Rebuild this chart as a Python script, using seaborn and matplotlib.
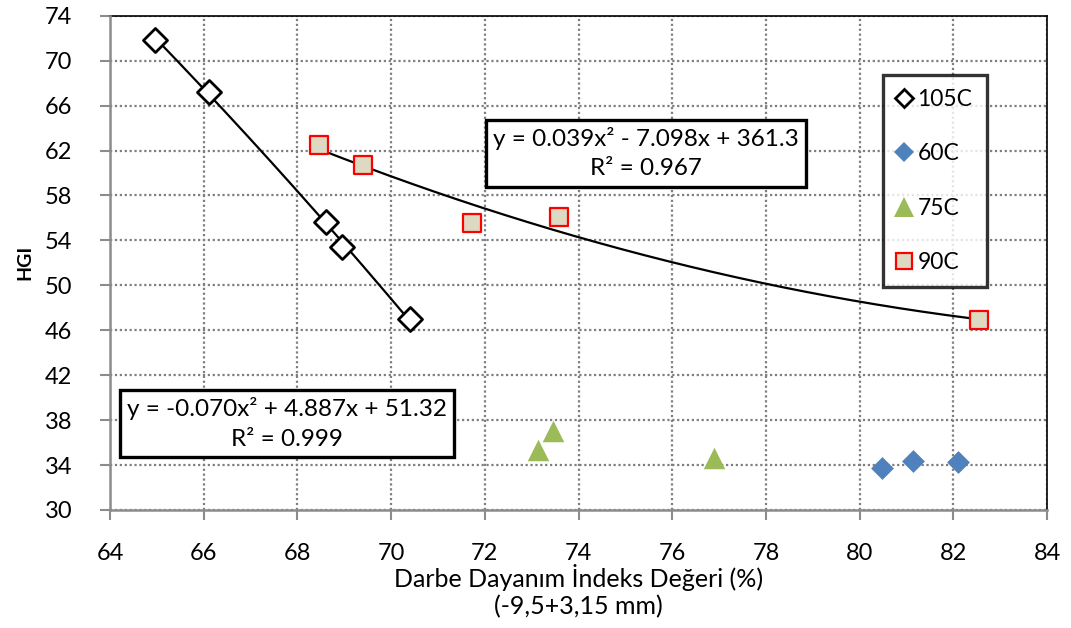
import numpy as np
import pandas as pd
import matplotlib
matplotlib.use("Agg")
import matplotlib.pyplot as plt
import seaborn as sns
from matplotlib.lines import Line2D

sns.set_theme(style="white")
plt.rcParams['font.family'] = ['Lato', 'DejaVu Sans']
plt.rcParams['text.color'] = 'black'
plt.rcParams['axes.labelcolor'] = 'black'

# ---- data ----
x_105 = [64.97, 66.12, 68.62, 68.96, 70.40]
y_105 = [71.84, 67.23, 55.66, 53.38, 46.97]
x_60 = [80.47, 81.13, 82.09]
y_60 = [33.75, 34.35, 34.29]
x_75 = [73.13, 73.46, 76.89]
y_75 = [35.33, 37.02, 34.59]
x_90 = [68.47, 69.41, 71.72, 73.58, 82.54]
y_90 = [62.49, 60.73, 55.51, 56.07, 46.90]

series_labels = ["105C", "60C", "75C", "90C"]
eq_90 = "y = 0.039x² - 7.098x + 361.3\nR² = 0.967"
eq_105 = "y = -0.070x² + 4.887x + 51.32\nR² = 0.999"
x_ticks = list(range(64, 85, 2))
y_ticks = list(range(30, 75, 4))
xlabel = "Darbe Dayanım İndeks Değeri (%)\n(-9,5+3,15 mm)"
ylabel = "HGI"

df = pd.concat([
    pd.DataFrame({"x": x_105, "y": y_105, "grp": "105C"}),
    pd.DataFrame({"x": x_60, "y": y_60, "grp": "60C"}),
    pd.DataFrame({"x": x_75, "y": y_75, "grp": "75C"}),
    pd.DataFrame({"x": x_90, "y": y_90, "grp": "90C"}),
], ignore_index=True)

fig = plt.figure(figsize=(10.71, 6.28), dpi=100)
ax = fig.add_axes([0.1027, 0.1879, 0.8749, 0.7871])

ax.set_xlim(64, 84)
ax.set_ylim(30, 74)
ax.set_xticks(x_ticks)
ax.set_yticks(y_ticks)
ax.grid(True, which="major", axis="both", color="#7f7f7f",
        linestyle=(0, (1.0, 1.2)), linewidth=1.6)
ax.set_axisbelow(True)

# trendlines (2nd order polynomial fits of the data)
for xs, ys in [(x_105, y_105), (x_90, y_90)]:
    c = np.polyfit(xs, ys, 2)
    xx = np.linspace(min(xs), max(xs), 200)
    ax.plot(xx, np.polyval(c, xx), color="black", lw=1.6, zorder=2)

styles = {
    "105C": dict(marker="D", s=150, color="white", edgecolor="black", linewidth=2.0),
    "60C": dict(marker="D", s=135, color="#4F81BD", edgecolor="#4F81BD", linewidth=0),
    "75C": dict(marker="^", s=240, color="#9BBB59", edgecolor="#9BBB59", linewidth=0),
    "90C": dict(marker="s", s=175, color="#DDD9C3", edgecolor="#FF0000", linewidth=1.6),
}
for g in series_labels:
    sub = df[df.grp == g]
    sns.scatterplot(data=sub, x="x", y="y", ax=ax, zorder=3, legend=False, **styles[g])

for side in ["left", "bottom"]:
    ax.spines[side].set_color("#8c8c8c")
    ax.spines[side].set_linewidth(1.8)
    ax.spines[side].set_zorder(4)
for side in ["top", "right"]:
    ax.spines[side].set_color("black")
    ax.spines[side].set_linewidth(1.2)
ax.tick_params(axis="both", which="major", direction="out", length=7, width=1.5,
               color="#8c8c8c", labelsize=17, labelcolor="black", bottom=True, left=True)
ax.tick_params(axis="x", pad=17)
ax.tick_params(axis="y", pad=20)

ax.set_xlabel(xlabel, fontsize=18, color="black", labelpad=0, linespacing=1.2)
ax.set_ylabel(ylabel, fontsize=14, color="black", fontweight="bold", labelpad=8)

# equation boxes
bbox = dict(boxstyle="square,pad=0.3", facecolor="white", edgecolor="black", linewidth=2.4)
ax.text(0.5717, 0.722, eq_90, transform=ax.transAxes, ha="center", va="center",
        multialignment="center", fontsize=17.5, bbox=bbox, zorder=5, linespacing=1.5)
ax.text(0.189, 0.1746, eq_105, transform=ax.transAxes, ha="center", va="center",
        multialignment="center", fontsize=17.5, bbox=bbox, zorder=5, linespacing=1.5)

handles = [
    Line2D([], [], ls="none", marker="D", ms=9, mfc="white", mec="black", mew=2),
    Line2D([], [], ls="none", marker="D", ms=10, mfc="#4F81BD", mec="#4F81BD", mew=0),
    Line2D([], [], ls="none", marker="^", ms=14, mfc="#9BBB59", mec="#9BBB59", mew=0),
    Line2D([], [], ls="none", marker="s", ms=12, mfc="#DDD9C3", mec="#FF0000", mew=1.6),
]
leg = ax.legend(handles, series_labels, loc="upper left", bbox_to_anchor=(0.8247, 0.88),
                fontsize=16.5, frameon=True, fancybox=False, labelspacing=1.45,
                handletextpad=0.3, handlelength=0.6, borderpad=0.62, borderaxespad=0)
leg.get_frame().set_edgecolor("black")
leg.get_frame().set_linewidth(2.4)

fig.savefig("out.png", dpi=100)
